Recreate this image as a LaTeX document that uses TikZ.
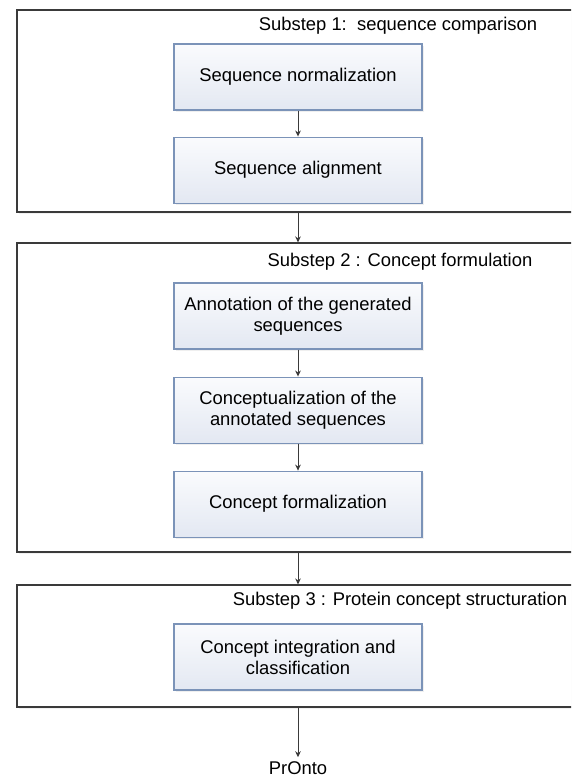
\documentclass[tikz,border=0pt]{standalone}
\usepackage{fontspec}
\setmainfont{Liberation Sans}
\usetikzlibrary{positioning,shadows,arrows.meta}

\definecolor{boxline}{HTML}{7B93B8}
\definecolor{boxtop}{HTML}{FAFBFD}
\definecolor{boxbot}{HTML}{E3E8F2}
\definecolor{frameline}{HTML}{3A3A3A}
\newcommand{\stepfont}{\fontsize{13.8}{15.8}\selectfont}

\begin{document}
\begin{tikzpicture}[x=0.75pt,y=-0.75pt,->,>={Stealth[length=4.5pt,width=4.2pt]},shorten >=0pt,node distance=19.5pt,
    frame node/.style={draw=frameline,line width=0.9pt,fill=white,minimum width=421.5pt,drop shadow={opacity=0.12,shadow xshift=1.2pt,shadow yshift=-1.2pt}},
    step node/.style={draw=boxline,line width=0.8pt,top color=boxtop,bottom color=boxbot,minimum width=186pt,minimum height=49.5pt,align=center,font=\stepfont,drop shadow={opacity=0.12,shadow xshift=1.2pt,shadow yshift=-1.2pt}},
    title node/.style={inner sep=0pt,font=\stepfont}]
    \useasboundingbox (0,0) rectangle (571,781);
    \clip (0,0) rectangle (571,781);

    % substeps
    \node[frame node,minimum height=151.5pt] (sub1) at (298,111) {};
    \node[frame node,minimum height=231.75pt] (sub2) at (298,397.5) {};
    \node[frame node,minimum height=91.5pt] (sub3) at (298,646) {};

    \node[title node] (t1) at (398,26) {Substep 1:~~sequence comparison};
    \node[title node] (t2) at (400,262) {Substep 2 : Concept formulation};
    \node[title node] (t3) at (400,601) {Substep 3 : Protein concept structuration};

    % steps
    \node[step node] (seqnorm) at (298,77) {Sequence normalization};
    \node[step node] (seqalign) [below=of seqnorm] {Sequence alignment};

    \node[step node] (annot) at (298,316) {Annotation of the generated\\sequences};
    \node[step node] (concz) [below=20.25pt of annot] {Conceptualization of the\\annotated sequences};
    \node[step node] (formal) [below=20.25pt of concz] {Concept formalization};

    \node[step node] (integ) at (298,657) {Concept integration and\\classification};

    \node[font=\stepfont,inner sep=3pt] (pronto) at (298,768) {PrOnto};

    \path[draw=frameline,line width=0.75pt]
        (seqnorm) edge (seqalign)
        (sub1) edge (sub2)
        (annot) edge (concz)
        (concz) edge (formal)
        (sub2) edge (sub3)
        (sub3) edge (pronto)
    ;

\end{tikzpicture}
\end{document}
